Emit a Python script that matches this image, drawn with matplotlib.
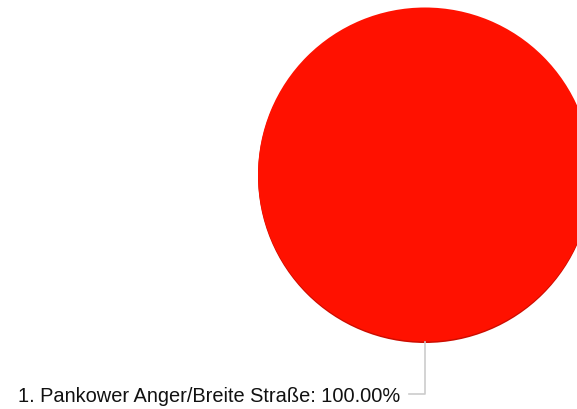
import matplotlib.pyplot as plt
import matplotlib.patches as patches

plt.rcParams['font.family'] = ['Liberation Sans', 'DejaVu Sans']

# Data
labels = ['Pankower Anger/Breite Straße']
values = [100.0]
colors = ['#ff1100']

W, H = 577, 409
fig = plt.figure(figsize=(W / 100, H / 100), dpi=100)
ax = fig.add_axes([0, 0, 1, 1])
ax.set_xlim(0, W)
ax.set_ylim(H, 0)
ax.set_aspect('equal')
ax.axis('off')

cx, cy, r = 425, 174.5, 167

# darker rim under the pie
ax.add_patch(patches.Circle((cx, cy + 1.5), r, facecolor='#cc0d00', edgecolor='none', zorder=1))

ax.pie(values, colors=colors, center=(cx, cy), radius=r, startangle=90,
       counterclock=False, wedgeprops=dict(linewidth=0), frame=True)
ax.set_xlim(0, W)
ax.set_ylim(H, 0)
ax.axis('off')

total = sum(values)
for i, (lab, v) in enumerate(zip(labels, values)):
    # leader line from the bottom of the pie
    ax.plot([cx, cx, 409], [cy + r, 394, 394], color='#cccccc', lw=1.2, zorder=3)
    ax.text(400, 396, f"{i + 1}. {lab}: {v / total * 100:.2f}%", ha='right', va='center',
            fontsize=14.4, color='#111111')

fig.savefig('out.png', dpi=100)
